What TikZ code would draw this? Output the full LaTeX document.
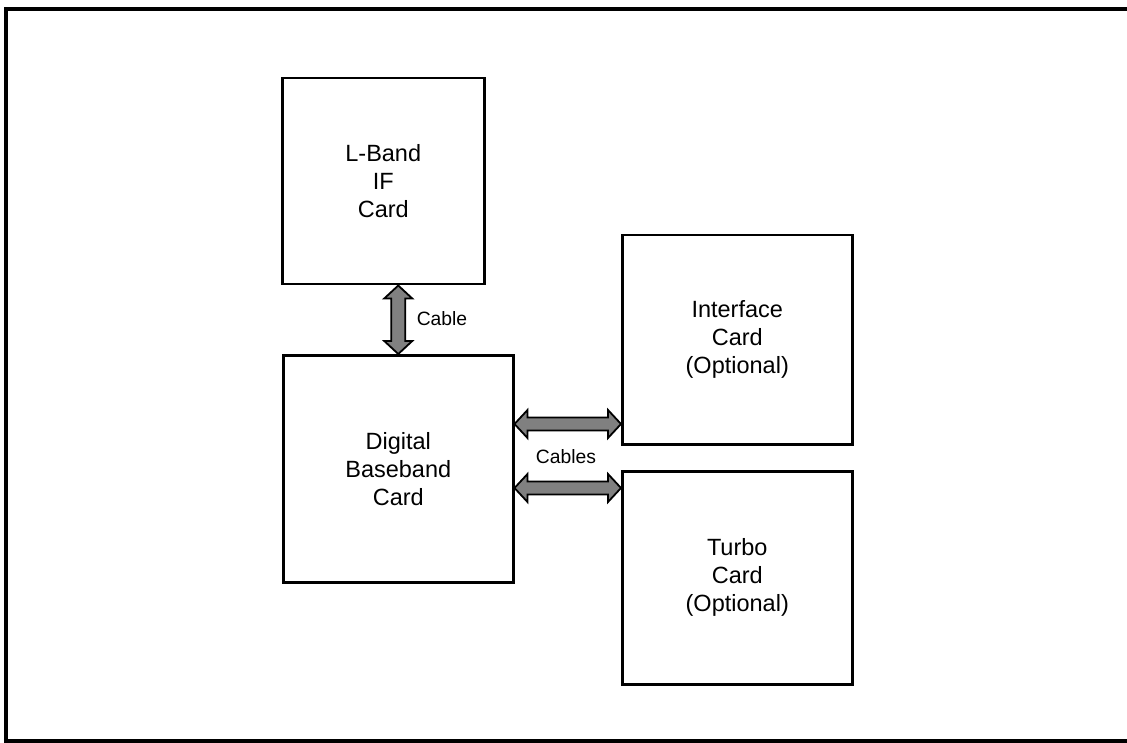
\documentclass[tikz,border=0pt]{standalone}
\usepackage{fontspec}
\setmainfont{Liberation Sans}
\usetikzlibrary{calc}
\begin{document}
\begin{tikzpicture}[x=1pt,y=-1pt,
  card/.style={draw,line width=2.5pt,anchor=north west,inner sep=0pt,align=center,
    font=\fontsize{23.5}{28}\selectfont},
  cablearrow/.style={draw=black,line width=1.8pt,fill=black!50,line join=miter},
  lbl/.style={font=\fontsize{19.3}{22}\selectfont,inner sep=0pt}]
\useasboundingbox (0,0) rectangle (1127,743);
\draw[line width=4pt] (1127,9) -- (6,9) -- (6,740.5) -- (1127,740.5);
\node[card,minimum width=202pt,minimum height=206pt] (lband) at (281,77) {L-Band\\IF\\Card};
\node[card,minimum width=230pt,minimum height=227pt] (dbb) at (282,354) {Digital\\Baseband\\Card};
\node[card,minimum width=230pt,minimum height=209pt] (ifc) at (621,234) {Interface\\Card\\(Optional)};
\node[card,minimum width=230pt,minimum height=213pt] (turbo) at (621,470) {Turbo\\Card\\(Optional)};
% vertical cable
\coordinate (va) at (lband.south -| dbb.north);
\coordinate (vb) at (dbb.north);
\draw[cablearrow] (va) -- ($(va)+(14,13)$) -- ($(va)+(7,13)$) -- ($(vb)+(7,-13)$) -- ($(vb)+(14,-13)$) -- (vb)
  -- ($(vb)+(-14,-13)$) -- ($(vb)+(-7,-13)$) -- ($(va)+(-7,13)$) -- ($(va)+(-14,13)$) -- cycle;
\node[lbl] (cable) at (442,319) {Cable};
% horizontal cables
\coordinate (ha) at (dbb.east |- 0,424);
\coordinate (hb) at (ifc.west |- 0,424);
\draw[cablearrow] (ha) -- ($(ha)+(13,-14)$) -- ($(ha)+(13,-6.5)$) -- ($(hb)+(-13,-6.5)$) -- ($(hb)+(-13,-14)$) -- (hb)
  -- ($(hb)+(-13,14)$) -- ($(hb)+(-13,6.5)$) -- ($(ha)+(13,6.5)$) -- ($(ha)+(13,14)$) -- cycle;
\coordinate (hc) at (dbb.east |- 0,488);
\coordinate (hd) at (turbo.west |- 0,488);
\draw[cablearrow] (hc) -- ($(hc)+(13,-14)$) -- ($(hc)+(13,-6.5)$) -- ($(hd)+(-13,-6.5)$) -- ($(hd)+(-13,-14)$) -- (hd)
  -- ($(hd)+(-13,14)$) -- ($(hd)+(-13,6.5)$) -- ($(hc)+(13,6.5)$) -- ($(hc)+(13,14)$) -- cycle;
\node[lbl] (cables) at (566,457) {Cables};
\end{tikzpicture}
\end{document}
